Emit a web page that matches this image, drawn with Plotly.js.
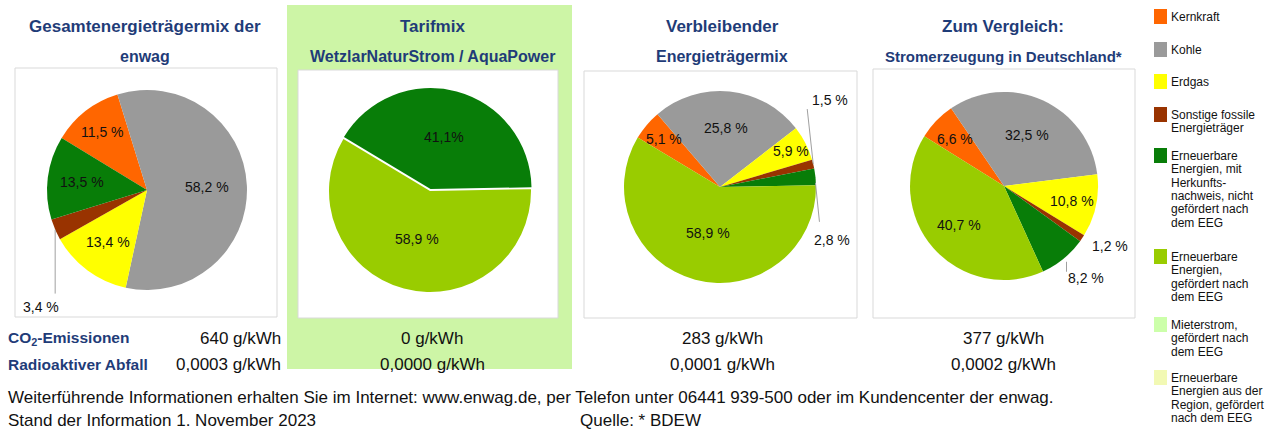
<!DOCTYPE html>
<html><head><meta charset="utf-8">
<script src="https://cdn.plot.ly/plotly-3.0.1.min.js"></script>
<style>html,body{margin:0;padding:0;background:#fff}#chart{width:1269px;height:430px}</style>
</head><body><div id="chart"></div>
<script>
const W = 1269, H = 430;
const FONT = 'Liberation Sans, Arial, sans-serif';
const NAVY = '#1f3c78';

// ---------- data ----------
const categories = [
  'Kernkraft', 'Kohle', 'Erdgas', 'Sonstige fossile Energieträger',
  'Erneuerbare Energien, mit Herkunftsnachweis, nicht gefördert nach dem EEG',
  'Erneuerbare Energien, gefördert nach dem EEG',
  'Mieterstrom, gefördert nach dem EEG',
  'Erneuerbare Energien aus der Region, gefördert nach dem EEG'
];
const legendLines = [
  ['Kernkraft'], ['Kohle'], ['Erdgas'], ['Sonstige fossile', 'Energieträger'],
  ['Erneuerbare', 'Energien, mit', 'Herkunfts-', 'nachweis, nicht', 'gefördert nach', 'dem EEG'],
  ['Erneuerbare', 'Energien,', 'gefördert nach', 'dem EEG'],
  ['Mieterstrom,', 'gefördert nach', 'dem EEG'],
  ['Erneuerbare', 'Energien aus der', 'Region, gefördert', 'nach dem EEG']
];
const enwagMix  = [11.5, 58.2, 13.4, 3.4, 13.5, 0, 0, 0];
const tarifMix  = [0, 0, 0, 0, 41.1, 58.9, 0, 0];
const restMix   = [5.1, 25.8, 5.9, 1.5, 2.8, 58.9, 0, 0];
const deMix     = [6.6, 32.5, 10.8, 1.2, 8.2, 40.7, 0, 0];
const panelTitles = [
  ['Gesamtenergieträgermix der', 'enwag'],
  ['Tarifmix', 'WetzlarNaturStrom / AquaPower'],
  ['Verbleibender', 'Energieträgermix'],
  ['Zum Vergleich:', 'Stromerzeugung in Deutschland*']
];
const co2Values   = [640, 0, 283, 377];       // g/kWh
const wasteValues = [0.0003, 0, 0.0001, 0.0002]; // g/kWh
const rowLabels = ['CO<sub>2</sub>-Emissionen', 'Radioaktiver Abfall'];
const footerLine1 = 'Weiterführende Informationen erhalten Sie im Internet: www.enwag.de, per Telefon unter 06441 939-500 oder im Kundencenter der enwag.';
const footerLine2 = 'Stand der Information 1. November 2023';
const sourceText = 'Quelle: * BDEW';

// ---------- style ----------
const sliceColors = ['#ff6600', '#9a9a9a', '#ffff00', '#993300', '#087d08', '#99cc00', '#ccffaa', '#f2f9b4'];
// per pie: centre, radius, rotation, pull, label placement (by category index)
const pieStyle = [
  { cx: 147, cy: 190, r: 100, rot: -58.6, pull: {},
    lab: { 0: {f: .73}, 1: {f: .6}, 2: {f: .65}, 4: {f: .65},
           3: {t: [-14, 77], l: [0, 0, 0, 64]} } },
  { cx: 430, cy: 191, r: 101, rot: -59, pull: {4: 0.02},
    lab: { 4: {f: .53, sep: ''}, 5: {f: .49} } },
  { cx: 720, cy: 187, r: 96, rot: -59, pull: {},
    lab: { 0: {f: .77}, 1: {f: .62}, 2: {f: .83}, 5: {f: .5},
           3: {t: [17, -64], l: [0, 0, -6, -55]},
           4: {t: [17, 63], l: [0, 6, 4, 45]} } },
  { cx: 1004, cy: 186, r: 94, rot: -58, pull: {},
    lab: { 0: {f: .72}, 1: {f: .6}, 2: {f: .74}, 5: {f: .63},
           3: {t: [28, 8]},
           4: {t: [22, 19], l: [3, 3, 3, 13]} } }
];
const boxes = [[15, 68, 277, 317], [298, 70, 558, 318], [584, 71, 857, 318], [873, 69, 1135, 318]];
const greenPanel = [287, 5, 572, 369];
const titleX = [145, 432, 722, 1003];
const titleSizes = [[17, 16], [17, 16], [17, 16], [17, 15]];
const valueX = [283, 432, 722, 1003];
const legendY = [17, 50, 82, 115, 156, 257, 325, 378];

const X = px => px / W;
const Y = py => 1 - py / H;
const dataSets = [enwagMix, tarifMix, restMix, deMix];
const fmtPct = (v, sep) => v.toFixed(1).replace('.', ',') + sep + '%';
const fmtVal = (v, d) => v.toFixed(d).replace('.', ',') + ' g/kWh';

const traces = [], annotations = [], shapes = [];

shapes.push({type: 'rect', xref: 'paper', yref: 'paper', layer: 'below',
  x0: X(greenPanel[0]), x1: X(greenPanel[2]), y0: Y(greenPanel[3]), y1: Y(greenPanel[1]),
  fillcolor: '#cdf5a6', line: {width: 0}});
boxes.forEach(b => shapes.push({type: 'rect', xref: 'paper', yref: 'paper', layer: 'below',
  x0: X(b[0]), x1: X(b[2]), y0: Y(b[3]), y1: Y(b[1]),
  fillcolor: '#ffffff', line: {color: '#d9d9d9', width: 1}}));

dataSets.forEach((vals, p) => {
  const st = pieStyle[p];
  const idx = vals.map((v, i) => i).filter(i => vals[i] > 0);
  const pulls = idx.map(i => st.pull[i] || 0);
  const maxPull = Math.max(...pulls);
  const half = st.r * (1 + maxPull);
  traces.push({
    type: 'pie', sort: false, direction: 'clockwise', rotation: st.rot,
    labels: idx.map(i => categories[i]), values: idx.map(i => vals[i]),
    marker: {colors: idx.map(i => sliceColors[i]), line: {width: 0}},
    pull: pulls, textinfo: 'none', hoverinfo: 'label+percent', showlegend: false,
    domain: {x: [X(st.cx - half), X(st.cx + half)], y: [Y(st.cy + half), Y(st.cy - half)]}
  });
  const total = idx.reduce((s, i) => s + vals[i], 0);
  let a = st.rot;
  idx.forEach(i => {
    const span = vals[i] / total * 360;
    const mid = (a + span / 2) * Math.PI / 180;
    a += span;
    const L = st.lab[i];
    if (!L) return;
    const sep = L.sep !== undefined ? L.sep : ' ';
    const text = fmtPct(vals[i], sep);
    const pl = (st.pull[i] || 0) * st.r;
    let tx, ty;
    if (L.f !== undefined) {
      const rr = L.f * st.r + pl;
      tx = st.cx + rr * Math.sin(mid); ty = st.cy - rr * Math.cos(mid);
    } else {
      const ex = st.cx + st.r * Math.sin(mid), ey = st.cy - st.r * Math.cos(mid);
      tx = ex + L.t[0]; ty = ey + L.t[1];
      if (L.l) shapes.push({type: 'line', xref: 'paper', yref: 'paper',
        x0: X(ex + L.l[0]), y0: Y(ey + L.l[1]), x1: X(ex + L.l[2]), y1: Y(ey + L.l[3]),
        line: {color: '#a0a0a0', width: 1}});
    }
    annotations.push({xref: 'paper', yref: 'paper', x: X(tx), y: Y(ty), text,
      showarrow: false, xanchor: 'center', yanchor: 'middle',
      font: {family: FONT, size: 14, color: '#111'}});
  });
  // titles
  panelTitles[p].forEach((t, k) => annotations.push({xref: 'paper', yref: 'paper',
    x: X(titleX[p]), y: Y(k === 0 ? 26 : 56), text: '<b>' + t + '</b>', showarrow: false,
    xanchor: 'center', yanchor: 'middle', font: {family: FONT, size: titleSizes[p][k], color: NAVY}}));
  // value rows
  const anchor = p === 0 ? 'right' : 'center';
  annotations.push({xref: 'paper', yref: 'paper', x: X(valueX[p]), y: Y(338),
    text: fmtVal(co2Values[p], 0), showarrow: false, xanchor: anchor, yanchor: 'middle',
    font: {family: FONT, size: 17, color: '#111'}});
  annotations.push({xref: 'paper', yref: 'paper', x: X(valueX[p]), y: Y(364),
    text: fmtVal(wasteValues[p], 4), showarrow: false, xanchor: anchor, yanchor: 'middle',
    font: {family: FONT, size: 17, color: '#111'}});
});

rowLabels.forEach((t, k) => annotations.push({xref: 'paper', yref: 'paper', x: X(6), y: Y(k === 0 ? 338 : 364),
  text: '<b>' + t + '</b>', showarrow: false, xanchor: 'left', yanchor: 'middle',
  font: {family: FONT, size: 15.5, color: NAVY}}));

[[footerLine1, 6, 397], [footerLine2, 6, 420], [sourceText, 578, 420]].forEach(f =>
  annotations.push({xref: 'paper', yref: 'paper', x: X(f[1]), y: Y(f[2]), text: f[0],
    showarrow: false, xanchor: 'left', yanchor: 'middle', font: {family: FONT, size: 17, color: '#111'}}));

// legend
legendLines.forEach((lines, i) => {
  const y0 = legendY[i];
  shapes.push({type: 'rect', xref: 'paper', yref: 'paper', x0: X(1154), x1: X(1167),
    y0: Y(y0 + 7), y1: Y(y0 - 8), fillcolor: sliceColors[i], line: {width: 0}});
  lines.forEach((t, k) => annotations.push({xref: 'paper', yref: 'paper', x: X(1169),
    y: Y(y0 + k * 13.3), text: t, showarrow: false, xanchor: 'left', yanchor: 'middle',
    font: {family: FONT, size: 12, color: '#111'}}));
});

Plotly.newPlot('chart', traces, {
  width: W, height: H, margin: {l: 0, r: 0, t: 0, b: 0},
  paper_bgcolor: '#ffffff', showlegend: false,
  shapes, annotations
}, {displayModeBar: false, staticPlot: true});
</script>
</body></html>
